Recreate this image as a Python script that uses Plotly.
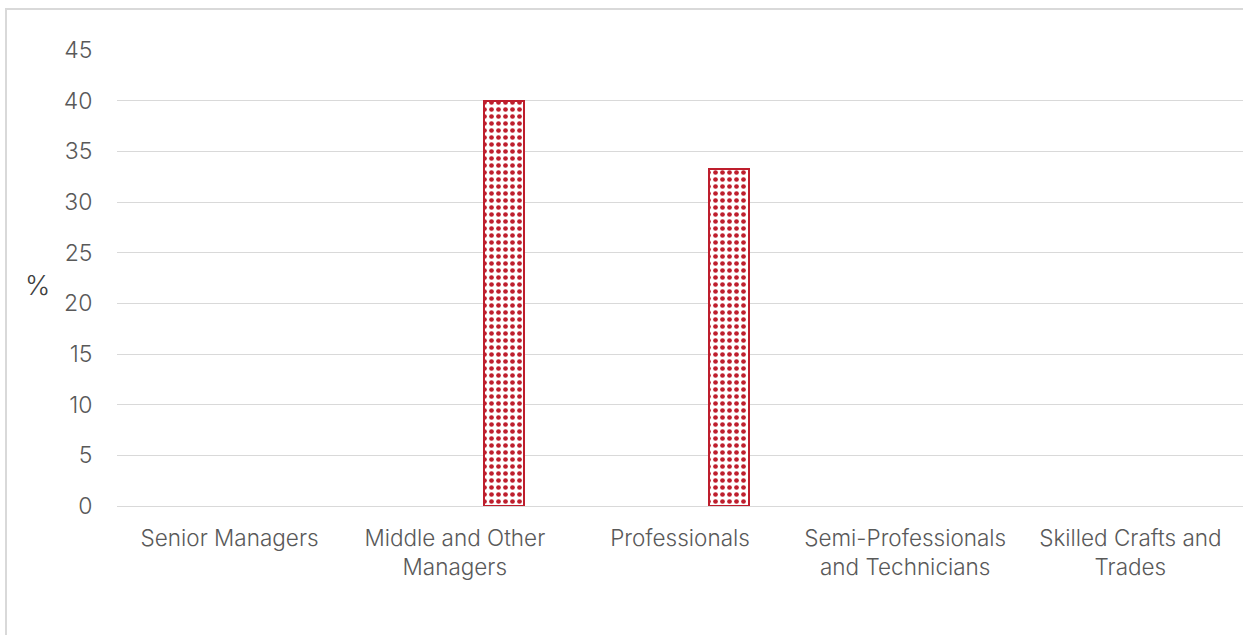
import plotly.graph_objects as go

# Share of appointments by occupational level (%)
categories = [
    "Senior Managers",
    "Middle and Other<br>Managers",
    "Professionals",
    "Semi-Professionals<br>and Technicians",
    "Skilled Crafts and<br>Trades",
]
values = [0, 40, 33.3, 0, 0]
y_ticks = [0, 5, 10, 15, 20, 25, 30, 35, 40, 45]

RED = "#BE1E2D"
GRID = "#D9D9D9"
TEXT = "#595959"
FONT = "Inter"

fig = go.Figure()
fig.add_trace(
    go.Bar(
        x=categories,
        y=values,
        width=0.178,
        offset=0.129,
        marker=dict(
            color="white",
            # empty categories get no outline so nothing shows at zero
            line=dict(color=RED, width=[2 if v > 0 else 0 for v in values]),
            pattern=dict(
                shape=".",
                fgcolor=RED,
                bgcolor="white",
                size=7,
                solidity=0.36,
                fillmode="replace",
            ),
        ),
        hoverinfo="x+y",
        showlegend=False,
    )
)

fig.update_layout(
    width=1243,
    height=635,
    margin=dict(l=117, r=0, t=50, b=129),
    paper_bgcolor="white",
    plot_bgcolor="white",
    font=dict(family=FONT, size=22, color=TEXT, weight=300),
    bargap=0,
)

fig.update_xaxes(
    type="category",
    showgrid=False,
    showline=True,
    linecolor=GRID,
    linewidth=1,
    ticks="outside",
    ticklen=12,
    tickcolor="rgba(0,0,0,0)",
    tickfont=dict(family=FONT, size=22.5, color=TEXT, weight=300),
    fixedrange=True,
)

fig.update_yaxes(
    range=[0, 45],
    tickvals=y_ticks,
    showgrid=True,
    gridcolor=GRID,
    gridwidth=1,
    zeroline=False,
    showline=False,
    ticks="outside",
    ticklen=19,
    tickcolor="rgba(0,0,0,0)",
    tickfont=dict(family=FONT, size=23, color=TEXT, weight=300),
    fixedrange=True,
)

# Axis title drawn horizontally beside the tick labels
fig.add_annotation(
    text="%",
    xref="paper",
    yref="paper",
    x=(37 - 117) / 1126,
    y=(506 - 285) / 456,
    showarrow=False,
    font=dict(family=FONT, size=27, color="#404040", weight=300),
    xanchor="center",
    yanchor="middle",
)

# Chart frame
fig.add_shape(
    type="rect",
    xref="paper",
    yref="paper",
    x0=(6 - 117) / 1126,
    x1=1.2,
    y0=-0.5,
    y1=(506 - 9) / 456,
    line=dict(color=GRID, width=2),
    fillcolor="rgba(0,0,0,0)",
    layer="below",
)

fig.write_html("out.html")
